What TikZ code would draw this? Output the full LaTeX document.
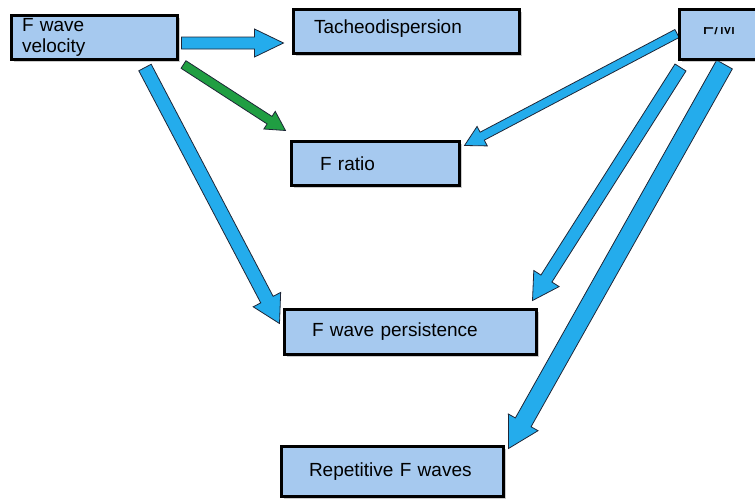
\documentclass[tikz,border=0pt]{standalone}
\usepackage{fontspec}
\setmainfont{Liberation Sans}
\usetikzlibrary{calc,shadows,backgrounds}
\definecolor{boxfill}{RGB}{166,201,239}
\definecolor{arrblue}{RGB}{36,172,236}
\definecolor{arrgreen}{RGB}{32,158,66}
\definecolor{arredge}{RGB}{30,38,55}
\tikzset{
  box/.style={draw=black, line width=3pt, fill=boxfill, rectangle,
    font=\fontsize{19}{21}\selectfont, align=left, inner ysep=0pt,
    drop shadow={shadow xshift=2.5pt, shadow yshift=-2.5pt, opacity=0.4, fill=gray}},
  bluearr/.style={fill=arrblue, draw=arredge, line width=0.8pt, line join=miter},
  greenarr/.style={fill=arrgreen, draw=arredge, line width=0.8pt, line join=miter}
}
\newcommand\barrow[6]{%
  \coordinate (hb) at ($(#2)!#5!(#1)$);
  \draw[#6] ($(#1)!#3!90:(#2)$) -- ($(hb)!#3!90:(#2)$) -- ($(hb)!#4!90:(#2)$) -- (#2)
    -- ($(hb)!#4!-90:(#2)$) -- ($(hb)!#3!-90:(#2)$) -- ($(#1)!#3!-90:(#2)$) -- cycle;}
\begin{document}
\begin{tikzpicture}[x=1pt,y=-1pt]
\clip (0,0) rectangle (755,499);
% boxes
\node[box, minimum width=166pt, minimum height=44pt, inner xsep=10.5pt, text width=145pt] (fwv) at (94.5,37.5) {F wave\\velocity};
\node[box, minimum width=226pt, minimum height=44pt, inner xsep=20.5pt, text width=185pt, text height=7pt, text depth=4pt] (tach) at (406.5,31.5) {Tacheodispersion};
\node[box, minimum width=109pt, minimum height=50pt] (fm) at (734,34.5) {};
\node[box, minimum width=168pt, minimum height=44pt, inner xsep=28.5pt, text width=111pt] (fratio) at (375.5,163.5) {F ratio};
\node[box, minimum width=252pt, minimum height=45pt, inner xsep=27.5pt, text width=197pt] (pers) at (410.5,332) {F wave persistence};
\node[box, minimum width=222pt, minimum height=50pt, inner xsep=27.5pt, text width=167pt] (rep) at (392.5,471.5) {Repetitive F waves};
\begin{scope}
  \clip (690,27) rectangle (750,45);
  \node[font=\fontsize{19}{21}\selectfont, anchor=base, inner sep=0pt] (fmtext) at (719,34) {F/M};
\end{scope}
% arrow end points
\coordinate (a1s) at ($(fwv.east)+(2.5,5.5)$);
\coordinate (a1e) at ($(tach.west)+(-8.5,11.5)$);
\coordinate (a2s) at ($(fwv.south east)+(4.5,3.5)$);
\coordinate (a2e) at ($(fratio.north west)+(-4.5,-9.5)$);
\coordinate (a3s) at ($(fwv.south)+(50.5,6.5)$);
\coordinate (a3e) at ($(pers.north west)+(-3.5,15.5)$);
\coordinate (a4s) at ($(fm.west)+(-1,-1)$);
\coordinate (a4e) at ($(fratio.north east)+(3.5,5.5)$);
\coordinate (a5s) at ($(fm.south west)+(2.5,6.5)$);
\coordinate (a5e) at ($(pers.north east)+(-5.5,-7.5)$);
\coordinate (a6s) at ($(fm.south west)+(46.5,3.5)$);
\coordinate (a6e) at ($(rep.north east)+(3.5,3.5)$);
\begin{pgfonlayer}{background}
\barrow{a1s}{a1e}{6pt}{14pt}{29pt}{bluearr}
\barrow{a2s}{a2e}{4.5pt}{10.5pt}{19pt}{greenarr}
\barrow{a3s}{a3e}{7pt}{15.5pt}{27pt}{bluearr}
\barrow{a4s}{a4e}{4.5pt}{11pt}{20pt}{bluearr}
\barrow{a5s}{a5e}{6.5pt}{15pt}{26pt}{bluearr}
\barrow{a6s}{a6e}{9pt}{17pt}{30pt}{bluearr}
\end{pgfonlayer}
\end{tikzpicture}
\end{document}
